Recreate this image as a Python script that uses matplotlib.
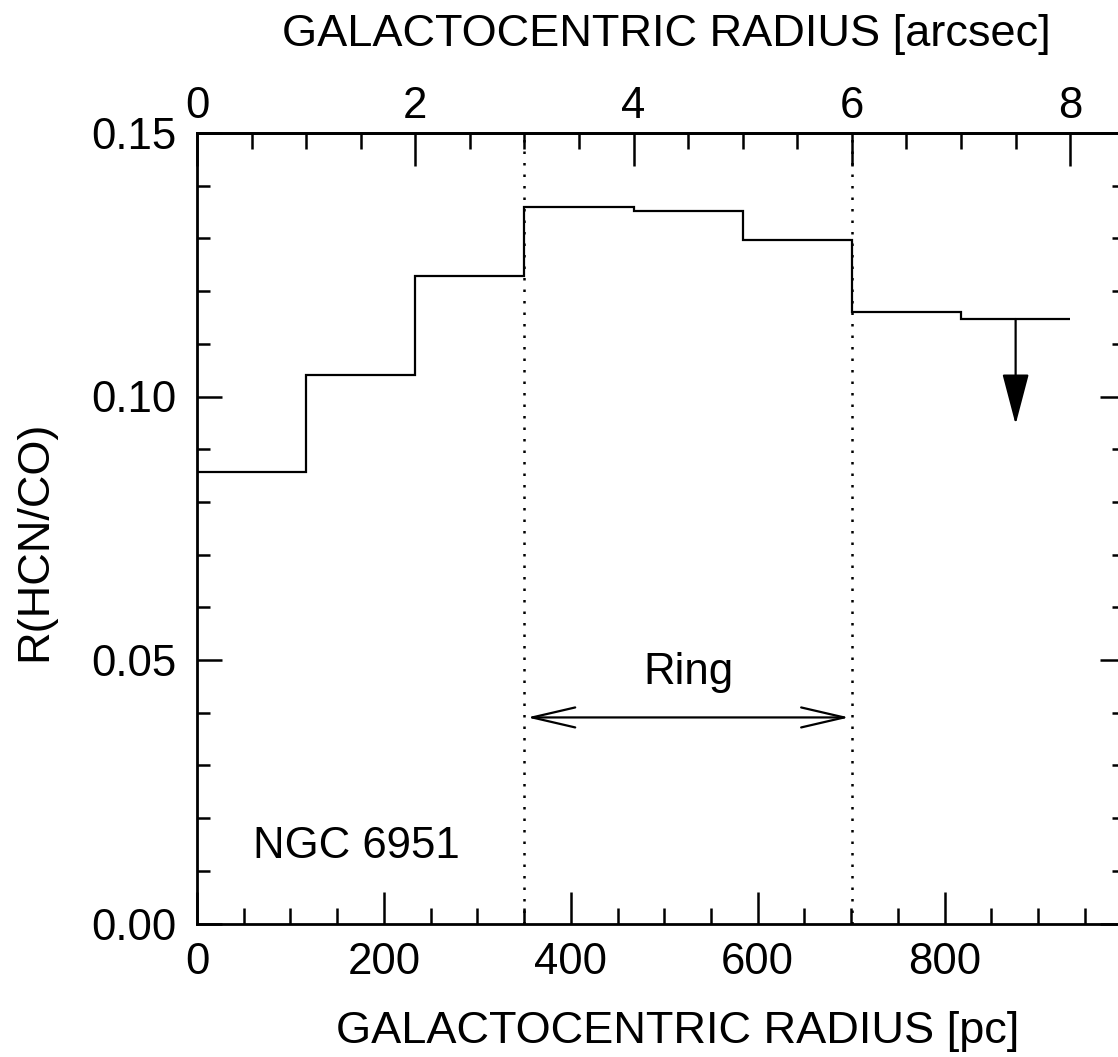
import matplotlib
matplotlib.use("Agg")
import matplotlib.pyplot as plt
from matplotlib.ticker import MultipleLocator, FormatStrFormatter
import numpy as np

plt.rcParams['font.family'] = ['Liberation Sans', 'DejaVu Sans']

# Data
PC_PER_ARCSEC = 116.8
bin_edges_arcsec = [0, 1, 2, 3, 4, 5, 6, 7, 8]
ratio_values = [0.0857, 0.1040, 0.1228, 0.1360, 0.1352, 0.1297, 0.1160, 0.1147]
ring_arcsec = [3, 6]
ring_arrow_y = 0.0391
limit_arcsec = 7.5
limit_from = 0.1147
limit_to = 0.0947
x_max_arcsec = 8.5

FS = 31.5
FS_LABEL = 32.5

fig = plt.figure(figsize=(11.18, 10.57), dpi=100)
W, H = 1118, 1057
x_right_px = 197 + x_max_arcsec * 109.15
ax = fig.add_axes([197 / W, 1 - 923.5 / H, (x_right_px - 197) / W, (923.5 - 133) / H])

edges_pc = np.array(bin_edges_arcsec) * PC_PER_ARCSEC
vals = np.array(ratio_values)
ax.stairs(vals, edges_pc, color='black', lw=1.6, baseline=None)

for r in ring_arcsec:
    ax.axvline(r * PC_PER_ARCSEC, color='black', lw=1.8, ls=(0, (1, 3.6)))

ax.annotate('', xy=(ring_arcsec[0] * PC_PER_ARCSEC, ring_arrow_y),
            xytext=(ring_arcsec[1] * PC_PER_ARCSEC, ring_arrow_y),
            arrowprops=dict(arrowstyle='<->,head_length=1.55,head_width=0.36',
                            mutation_scale=20, lw=1.6, color='black',
                            shrinkA=2, shrinkB=2))
ax.text(np.mean(ring_arcsec) * PC_PER_ARCSEC, 0.0455, 'Ring', ha='center',
        va='baseline', fontsize=FS)

ax.annotate('', xy=(limit_arcsec * PC_PER_ARCSEC, limit_to),
            xytext=(limit_arcsec * PC_PER_ARCSEC, limit_from),
            arrowprops=dict(arrowstyle='-|>,head_length=1.6,head_width=0.42',
                            mutation_scale=20, lw=1.6, color='black',
                            fc='black', shrinkA=0, shrinkB=0))

ax.text(60, 0.0124, 'NGC 6951', ha='left', va='baseline', fontsize=FS)

ax.set_xlim(0, x_max_arcsec * PC_PER_ARCSEC)
ax.set_ylim(0, 0.15)

ax.xaxis.set_major_locator(MultipleLocator(200))
ax.xaxis.set_minor_locator(MultipleLocator(50))
ax.yaxis.set_major_locator(MultipleLocator(0.05))
ax.yaxis.set_minor_locator(MultipleLocator(0.01))
ax.yaxis.set_major_formatter(FormatStrFormatter('%.2f'))

ax.tick_params(axis='x', which='major', direction='in', length=23, width=1.8,
               labelsize=FS, pad=13, top=False)
ax.tick_params(axis='x', which='minor', direction='in', length=11.5, width=1.8, top=False)
ax.tick_params(axis='y', which='major', direction='in', length=18, width=1.8,
               labelsize=FS, pad=15, right=True)
ax.tick_params(axis='y', which='minor', direction='in', length=9.4, width=1.8, right=True)

for s in ax.spines.values():
    s.set_linewidth(2.0)

secax = ax.secondary_xaxis('top', functions=(lambda x: x / PC_PER_ARCSEC,
                                              lambda x: x * PC_PER_ARCSEC))
secax.xaxis.set_major_locator(MultipleLocator(2))
secax.xaxis.set_minor_locator(MultipleLocator(0.5))
secax.tick_params(axis='x', which='major', direction='in', length=23.5, width=1.8,
                  labelsize=FS, pad=4)
secax.tick_params(axis='x', which='minor', direction='in', length=11.5, width=1.8)
secax.spines['top'].set_linewidth(2.0)

ax.set_xlabel('GALACTOCENTRIC RADIUS [pc]', fontsize=FS_LABEL)
ax.xaxis.set_label_coords((681 - 197) / 934, -0.111)
secax.set_xlabel('GALACTOCENTRIC RADIUS [arcsec]', fontsize=FS_LABEL)
secax.xaxis.set_label_coords((670 - 197) / 934, 1.110, transform=ax.transAxes)
ax.set_ylabel('R(HCN/CO)', fontsize=FS_LABEL)
ax.yaxis.set_label_coords(-0.153, 0.484)

fig.savefig('out.png', dpi=100)
